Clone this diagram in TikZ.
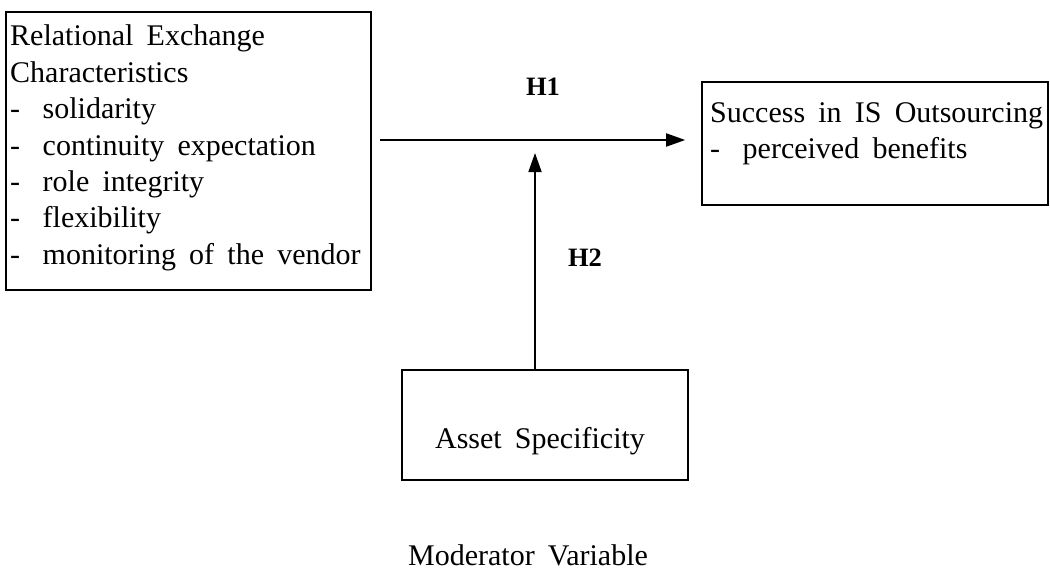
\documentclass[tikz,border=0pt]{standalone}
\usepackage{fontspec}
\setmainfont{Liberation Serif}
\usetikzlibrary{arrows.meta}
\newcommand{\bodyfnt}{\fontsize{30}{36}\selectfont\spaceskip=0.44em plus 0.1em\relax}
\newcommand{\labfnt}{\fontsize{26.5}{36}\selectfont\bfseries}
\newcommand{\dsh}{-\hspace{0.75em}}
\tikzset{
  box/.style={draw, line width=1.6pt, inner sep=0pt},
  txt/.style={anchor=base west, inner sep=0pt, font=\bodyfnt},
  ctxt/.style={anchor=base, inner sep=0pt, font=\bodyfnt},
  hlab/.style={anchor=base, inner sep=0pt, font=\labfnt},
  arr/.style={line width=1.8pt, -{Triangle[length=19pt,width=13pt]}}
}
\begin{document}
\begin{tikzpicture}[x=1pt,y=-1pt]
\useasboundingbox (0,0) rectangle (1050,570);
% boxes
\node[box, minimum width=365pt, minimum height=278pt] (rec) at (188.5,151) {};
\node[box, minimum width=346pt, minimum height=123pt] (suc) at (875,143.5) {};
\node[box, minimum width=286pt, minimum height=110pt] (ass) at (545,425) {};
% left box text
\node[txt] (t1) at (10,45) {Relational Exchange};
\node[txt] (t2) at (10,82) {Characteristics};
\node[txt] (t3) at (10,118) {\dsh solidarity};
\node[txt] (t4) at (10,155) {\dsh continuity expectation};
\node[txt] (t5) at (10,191) {\dsh role integrity};
\node[txt] (t6) at (10,227) {\dsh flexibility};
\node[txt] (t7) at (10,264) {\dsh monitoring of the vendor};
% right box text
\node[txt] (s1) at (710,122) {Success in IS Outsourcing};
\node[txt] (s2) at (710,158) {\dsh perceived benefits};
% bottom
\node[ctxt] (a1) at (540,448) {Asset Specificity};
\node[ctxt] (mv) at (528,565) {Moderator Variable};
% labels
\node[hlab] (h1) at (543,95) {H1};
\node[hlab] (h2) at (585,266) {H2};
% arrows
\coordinate (hs) at (380,140);
\coordinate (mid) at (535,140);
\draw[arr] (hs) -- ([xshift=-16pt]suc.west |- hs);
\draw[arr] (ass.north -| mid) -- ([yshift=-13pt]mid);
\end{tikzpicture}
\end{document}
